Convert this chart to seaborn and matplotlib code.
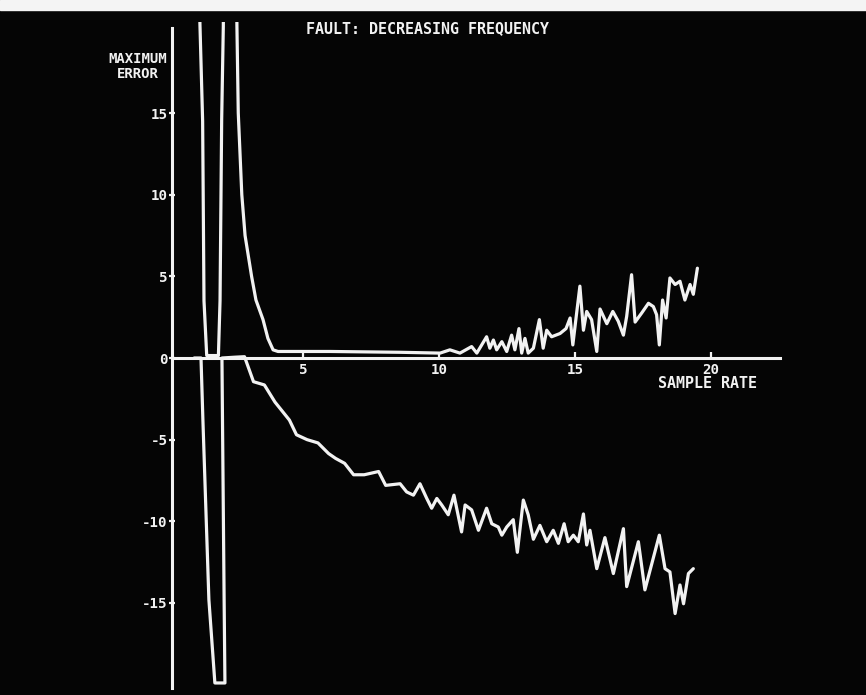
import matplotlib
matplotlib.use('Agg')
import matplotlib.pyplot as plt
from matplotlib.patches import Rectangle
import seaborn as sns

# values
upper_x = [1.19, 1.21, 1.31, 1.36, 1.46, 1.89, 1.95, 2.01, 2.07, 2.09,
           2.30, 2.55, 2.57, 2.62, 2.75, 2.87, 3.11, 3.27, 3.53, 3.71,
           3.90, 4.08, 6.00, 8.57, 10.04, 10.40, 10.77, 11.20, 11.39, 11.75,
           11.87, 12.00, 12.12, 12.31, 12.49, 12.67, 12.79, 12.94, 13.04, 13.16,
           13.28, 13.47, 13.69, 13.83, 13.96, 14.14, 14.45, 14.67, 14.82, 14.92,
           15.06, 15.18, 15.31, 15.43, 15.61, 15.80, 15.92, 16.17, 16.39, 16.59,
           16.78, 16.90, 17.08, 17.21, 17.45, 17.70, 17.88, 18.00, 18.10, 18.22,
           18.35, 18.49, 18.68, 18.86, 19.04, 19.23, 19.35, 19.50]
upper_y = [25, 20.5, 14.5, 3.5, 0.15, 0.15, 3.5, 14.6, 20.3, 25,
           40, 25, 20.4, 15, 10, 7.5, 5, 3.55, 2.35, 1.2,
           0.5, 0.4, 0.4, 0.35, 0.3, 0.5, 0.3, 0.7, 0.3, 1.3,
           0.6, 1.1, 0.5, 1.0, 0.4, 1.4, 0.5, 1.8, 0.3, 1.2,
           0.3, 0.6, 2.35, 0.6, 1.7, 1.3, 1.5, 1.8, 2.45, 0.8,
           2.75, 4.4, 1.7, 2.85, 2.35, 0.4, 3.0, 2.1, 2.85, 2.25,
           1.4, 2.55, 5.1, 2.2, 2.75, 3.35, 3.15, 2.65, 0.8, 3.55,
           2.45, 4.9, 4.5, 4.7, 3.55, 4.5, 3.9, 5.5]

lower_x = [1.00, 1.25, 1.32, 1.54, 1.76, 2.13, 2.10, 2.04, 2.02, 2.50,
           2.85, 3.18, 3.58, 3.97, 4.50, 4.76, 5.15, 5.55, 5.94, 6.20,
           6.53, 6.86, 7.25, 7.78, 8.04, 8.57, 8.81, 9.06, 9.30, 9.55,
           9.73, 9.92, 10.10, 10.34, 10.55, 10.83, 10.96, 11.20, 11.45, 11.75,
           11.94, 12.18, 12.31, 12.49, 12.73, 12.88, 13.10, 13.28, 13.47, 13.71,
           13.96, 14.20, 14.39, 14.60, 14.75, 14.94, 15.12, 15.31, 15.43, 15.55,
           15.80, 16.10, 16.41, 16.78, 16.90, 17.33, 17.57, 18.10, 18.31, 18.49,
           18.68, 18.86, 18.99, 19.17, 19.35]
lower_y = [0, 0, -3.8, -14.8, -19.9, -19.9, -14.8, -3.8, 0, 0.05,
           0.08, -1.45, -1.65, -2.7, -3.8, -4.7, -5.0, -5.2, -5.85, -6.15,
           -6.45, -7.15, -7.15, -6.95, -7.8, -7.7, -8.2, -8.4, -7.7, -8.6,
           -9.2, -8.6, -9.0, -9.6, -8.4, -10.65, -9.0, -9.3, -10.55, -9.2,
           -10.15, -10.35, -10.85, -10.35, -9.9, -11.9, -8.7, -9.6, -11.1, -10.25,
           -11.25, -10.55, -11.35, -10.15, -11.25, -10.85, -11.25, -9.55, -11.45, -10.55,
           -12.9, -11.0, -13.2, -10.45, -14.0, -11.25, -14.2, -10.85, -12.9, -13.1,
           -15.65, -13.9, -15.05, -13.2, -12.9]

x_ticks = [5, 10, 15, 20]
y_ticks = [-15, -10, -5, 0, 5, 10, 15]

FG = '#f2f2f2'
BG = '#050505'
MONO = ['DejaVu Sans Mono']

sns.set_theme(style="dark", rc={
    'figure.facecolor': BG,
    'axes.facecolor': BG,
    'axes.edgecolor': FG,
    'text.color': FG,
    'xtick.color': FG,
    'ytick.color': FG,
})
plt.rcParams['font.family'] = MONO
plt.rcParams['font.weight'] = 'bold'

W, H = 866, 695
fig = plt.figure(figsize=(W / 100, H / 100), dpi=100)

# screen geometry: x=0 at px 167, 27.2 px/unit; y=0 at px 358, 16.33 px/unit
x0, sx = 167.0, 27.2
y0, sy = 358.0, 16.33
y_top = 20.55
top_px = y0 - sy * y_top
ax = fig.add_axes([0, 0, 1, (H - top_px) / H])
ax.set_xlim(-x0 / sx, (W - x0) / sx)
ax.set_ylim((y0 - H) / sy, y_top)

sns.lineplot(x=upper_x, y=upper_y, sort=False, estimator=None, ax=ax,
             color=FG, lw=2.3, solid_joinstyle='round')
sns.lineplot(x=lower_x, y=lower_y, sort=False, estimator=None, ax=ax,
             color=FG, lw=2.3, solid_joinstyle='round')

for side in ['top', 'right']:
    ax.spines[side].set_visible(False)
ax.spines['left'].set_position(('data', 0.18))
ax.spines['left'].set_bounds(-20.2, 20.2)
ax.spines['bottom'].set_position(('data', 0))
ax.spines['bottom'].set_bounds(0.18, 22.55)
for side in ['left', 'bottom']:
    ax.spines[side].set_linewidth(2.2)
    ax.spines[side].set_color(FG)
    ax.spines[side].set_zorder(1)

ax.set_xticks(x_ticks)
ax.set_xticklabels([str(t) for t in x_ticks])
ax.set_yticks(y_ticks)
ax.set_yticklabels([str(t) for t in y_ticks])
ax.tick_params(axis='x', direction='in', length=4.5, width=1.6, pad=3.5,
               labelsize=10.2, bottom=True)
ax.tick_params(axis='y', direction='inout', length=5, width=1.6, pad=0.5,
               labelsize=10.2, left=True)
for lab in ax.get_xticklabels() + ax.get_yticklabels():
    lab.set_fontweight('bold')
    lab.set_family(MONO)
ax.grid(False)
ax.set_xlabel('')
ax.set_ylabel('')


def px(x, y):
    return x / W, 1 - y / H


kw = dict(family=MONO, fontweight='bold', color=FG, ha='center', va='center')
fig.text(*px(427.5, 29), 'FAULT: DECREASING FREQUENCY', fontsize=10.8, **kw)
fig.text(*px(138, 59), 'MAXIMUM', fontsize=10, **kw)
fig.text(*px(138, 74), 'ERROR', fontsize=10, **kw)
fig.text(*px(708, 383), 'SAMPLE RATE', fontsize=10.8, **kw)

# light strip along the top edge of the photo
fig.patches.append(Rectangle((0, 1 - 10 / H), 1, 10 / H,
                             transform=fig.transFigure, color='#f4f4f4',
                             zorder=10))

fig.savefig('out.png', dpi=100, facecolor=BG)
